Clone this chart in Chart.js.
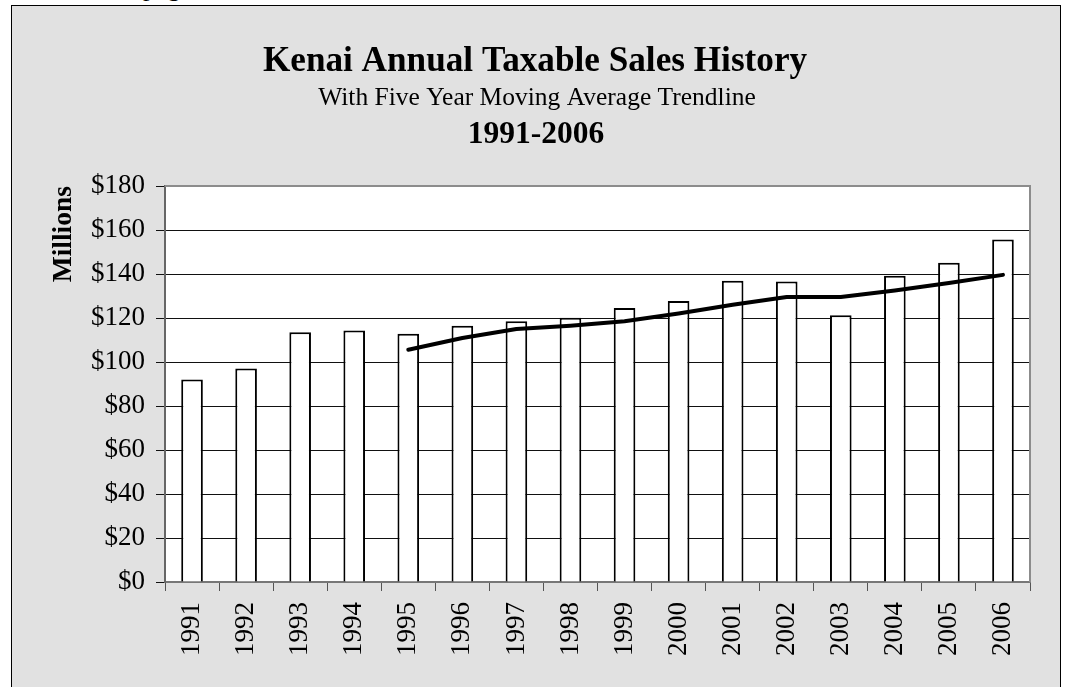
<!DOCTYPE html>
<html>
<head>
<meta charset="utf-8">
<script src="https://cdn.jsdelivr.net/npm/chart.js@4.4.1/dist/chart.umd.min.js"></script>
<style>
  html, body { margin: 0; padding: 0; background: #ffffff; width: 1067px; height: 687px; overflow: hidden; }
  #frame { position: absolute; left: 11px; top: 5px; width: 1050px; height: 720px; border: 1.5px solid #000; background: #e1e1e1; box-sizing: border-box; }
  #pagefrag { position: absolute; left: 143px; top: -25px; font-family: 'Liberation Serif', 'Times New Roman', serif; font-size: 26px; line-height: 26px; color: #000; }
  #wrap { position: absolute; left: 0; top: 0; width: 1067px; height: 687px; }
</style>
</head>
<body>
<div id="pagefrag">page</div>
<div id="frame"></div>
<div id="wrap"><canvas id="c" width="1067" height="687"></canvas></div>
<script>
// ---- data ----
const years = ['1991','1992','1993','1994','1995','1996','1997','1998','1999','2000','2001','2002','2003','2004','2005','2006'];
const taxableSales = [92.0, 97.0, 113.5, 114.3, 112.8, 116.5, 118.5, 120.1, 124.5, 127.7, 136.9, 136.6, 121.2, 139.2, 145.1, 155.7];
const movingAverage = [null, null, null, null, 105.6, 110.9, 115.0, 116.5, 118.5, 122.0, 126.0, 129.5, 129.5, 132.5, 135.9, 139.6];
const yTickValues = [0, 20, 40, 60, 80, 100, 120, 140, 160, 180];
const titleLines = ['Kenai Annual Taxable Sales History', 'With Five Year Moving Average Trendline', '1991-2006'];
const yAxisTitle = 'Millions';

const SERIF = "'Liberation Serif', 'Times New Roman', serif";

const plotBg = {
  id: 'plotBg',
  beforeDraw(chart) {
    const {ctx, chartArea: a} = chart;
    ctx.save();
    ctx.fillStyle = '#ffffff';
    ctx.fillRect(a.left, a.top, a.right - a.left, a.bottom - a.top);
    ctx.restore();
  },
  afterDraw(chart) {
    const {ctx, chartArea: a} = chart;
    ctx.save();
    ctx.strokeStyle = '#8c8c8c';
    ctx.lineWidth = 2;
    ctx.beginPath();
    ctx.moveTo(a.left, a.top);
    ctx.lineTo(a.right, a.top);
    ctx.lineTo(a.right, a.bottom);
    ctx.stroke();
    ctx.restore();
  }
};

const titles = {
  id: 'titles',
  afterDraw(chart) {
    const ctx = chart.ctx;
    ctx.save();
    ctx.fillStyle = '#000';
    ctx.textAlign = 'center';
    ctx.textBaseline = 'alphabetic';
    ctx.font = 'bold 35.2px ' + SERIF;
    ctx.fillText(titleLines[0], 535, 71);
    ctx.font = '25.5px ' + SERIF;
    ctx.fillText(titleLines[1], 537, 105);
    ctx.font = 'bold 31.5px ' + SERIF;
    ctx.fillText(titleLines[2], 536, 143);
    ctx.restore();
  }
};

new Chart(document.getElementById('c'), {
  data: {
    labels: years,
    datasets: [
      {
        type: 'line',
        label: 'Five Year Moving Average',
        data: movingAverage,
        borderColor: '#000',
        borderWidth: 4,
        pointRadius: 0,
        tension: 0,
        borderCapStyle: 'round',
        borderJoinStyle: 'round',
        spanGaps: false,
        order: 0
      },
      {
        type: 'bar',
        label: 'Taxable Sales',
        data: taxableSales,
        backgroundColor: '#ffffff',
        borderColor: '#000',
        borderWidth: 2,
        borderSkipped: 'bottom',
        barPercentage: 0.4,
        categoryPercentage: 1.0,
        order: 1
      }
    ]
  },
  options: {
    responsive: false,
    animation: false,
    layout: { padding: { left: 0, right: 37, top: 186, bottom: 0 } },
    plugins: {
      legend: { display: false },
      tooltip: { enabled: false },
      title: { display: false }
    },
    scales: {
      x: {
        offset: true,
        grid: { display: true, drawOnChartArea: false, drawTicks: true, tickLength: 9, color: '#555', lineWidth: 1, offset: true },
        border: { display: true, color: '#777', width: 2 },
        ticks: { minRotation: 90, maxRotation: 90, autoSkip: false, padding: 11, color: '#000', font: { family: SERIF, size: 27 } },
        afterFit(s) { s.height = 105; }
      },
      y: {
        min: 0,
        max: 180,
        afterBuildTicks(s) { s.ticks = yTickValues.map(v => ({ value: v })); },
        grid: { color: '#111', lineWidth: 1, drawTicks: true, tickLength: 9 },
        border: { display: true, color: '#666', width: 2 },
        ticks: { padding: 11, color: '#000', font: { family: SERIF, size: 27 }, callback: v => '$' + v },
        title: { display: true, text: yAxisTitle, align: 'end', color: '#000', font: { family: SERIF, size: 27.5, weight: 'bold' }, padding: { top: 47, bottom: 0 } },
        afterFit(s) { s.width = 165; }
      }
    }
  },
  plugins: [plotBg, titles]
});
</script>
</body>
</html>
